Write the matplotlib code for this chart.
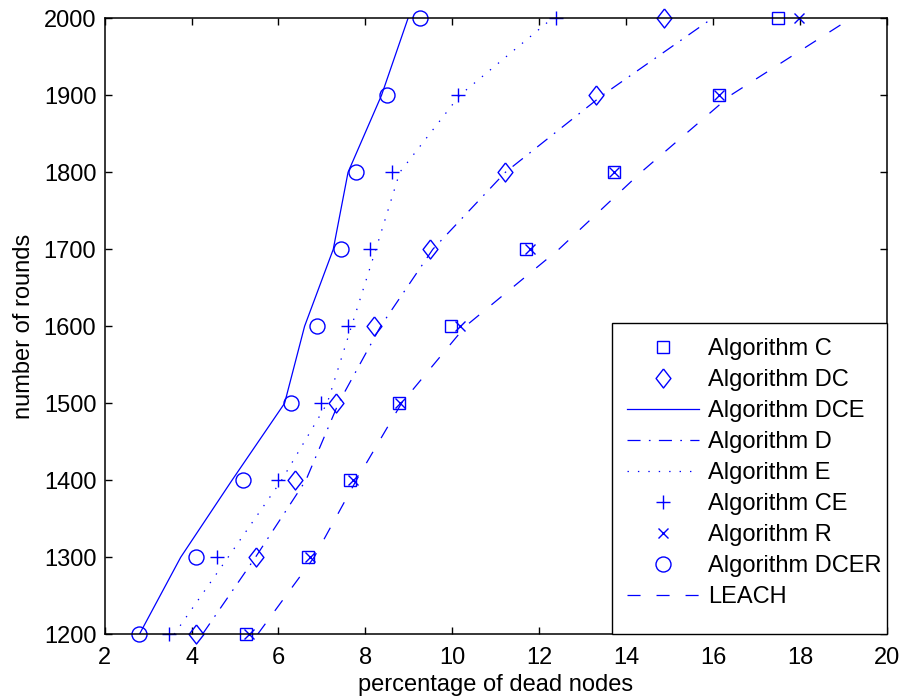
import matplotlib
matplotlib.use('Agg')
import matplotlib.pyplot as plt
from matplotlib.patches import Rectangle

plt.rcParams['font.family'] = ['Liberation Sans', 'DejaVu Sans']
plt.rcParams['lines.scale_dashes'] = False

rounds = [1200, 1300, 1400, 1500, 1600, 1700, 1800, 1900, 2000]

# marker-only series
alg_c = [5.26, 6.68, 7.64, 8.77, 9.96, 11.70, 13.73, 16.13, 17.49]
alg_dc = [4.10, 5.49, 6.37, 7.33, 8.19, 9.49, 11.21, 13.31, 14.88]
alg_ce = [3.49, 4.59, 5.98, 6.97, 7.60, 8.10, 8.60, 10.12, 12.39]
alg_r = [5.31, 6.72, 7.72, 8.80, 10.17, 11.78, 13.73, 16.13, 17.98]
alg_dcer = [2.80, 4.10, 5.19, 6.29, 6.89, 7.44, 7.79, 8.49, 9.25]

# line-only series
alg_dce = [2.80, 3.75, 4.93, 6.14, 6.60, 7.26, 7.60, 8.37, 8.98]
alg_d = [4.25, 5.47, 6.63, 7.38, 8.35, 9.55, 11.22, 13.45, 15.98]
alg_e = [3.60, 4.84, 6.07, 7.12, 7.68, 8.24, 8.79, 10.17, 12.30]
leach = [5.52, 6.82, 7.79, 8.83, 10.30, 12.45, 14.34, 16.40, 19.17]

xticks = [2, 4, 6, 8, 10, 12, 14, 16, 18, 20]
yticks = [1200, 1300, 1400, 1500, 1600, 1700, 1800, 1900, 2000]

blue = (0, 0, 1)
fs = 17
diamond = [(0, 1), (0.78, 0), (0, -1), (-0.78, 0), (0, 1)]

fig = plt.figure(figsize=(9.02, 6.98), dpi=100)
ax = fig.add_axes([0.116, 0.0913, 0.8674, 0.8825])

mk = dict(linestyle='none', color=blue, markerfacecolor='none',
          markeredgecolor=blue, markeredgewidth=1.0, clip_on=False)
ln = dict(color=blue, linewidth=0.9)

ax.plot(alg_c, rounds, marker='s', markersize=8.6, label='Algorithm C', **mk)
ax.plot(alg_dc, rounds, marker=diamond, markersize=13.7, label='Algorithm DC', **mk)
ax.plot(alg_dce, rounds, linestyle='-', label='Algorithm DCE', **ln)
ax.plot(alg_d, rounds, linestyle=(0, (9.4, 6.0, 1.2, 6.0)), label='Algorithm D', **ln)
ax.plot(alg_e, rounds, linestyle=(0, (1.0, 6.5)), label='Algorithm E', **ln)
ax.plot(alg_ce, rounds, marker='+', markersize=10.5, label='Algorithm CE', **mk)
ax.plot(alg_r, rounds, marker='x', markersize=7.5, label='Algorithm R', **mk)
ax.plot(alg_dcer, rounds, marker='o', markersize=10.8, label='Algorithm DCER', **mk)
ax.plot(leach, rounds, linestyle=(0, (9.4, 11.5)), label='LEACH', **ln)

ax.set_xlim(2, 20)
ax.set_ylim(1200, 2000)
ax.set_xticks(xticks)
ax.set_yticks(yticks)
ax.tick_params(direction='in', length=5, width=1, top=True, right=True,
               labelsize=fs)
ax.tick_params(axis='x', pad=9)
ax.tick_params(axis='y', pad=6)
for s in ax.spines.values():
    s.set_linewidth(1.1)

ax.set_xlabel('percentage of dead nodes', fontsize=fs, labelpad=4)
ax.set_ylabel('number of rounds', fontsize=fs, labelpad=6)

# legend box (MATLAB style, extra room at the bottom)
box = Rectangle((0.6485, 0.0), 0.3515, 0.5054, transform=ax.transAxes,
                facecolor='white', edgecolor='black', linewidth=1.0,
                zorder=4, clip_on=False)
ax.add_patch(box)

leg = ax.legend(loc='upper left', bbox_to_anchor=(0.6677, 0.4802),
                borderaxespad=0, borderpad=0, frameon=False,
                fontsize=fs, numpoints=1, handlelength=3.05,
                handletextpad=0.38, labelspacing=0.38)
leg.set_zorder(5)

fig.savefig('out.png', dpi=100)
